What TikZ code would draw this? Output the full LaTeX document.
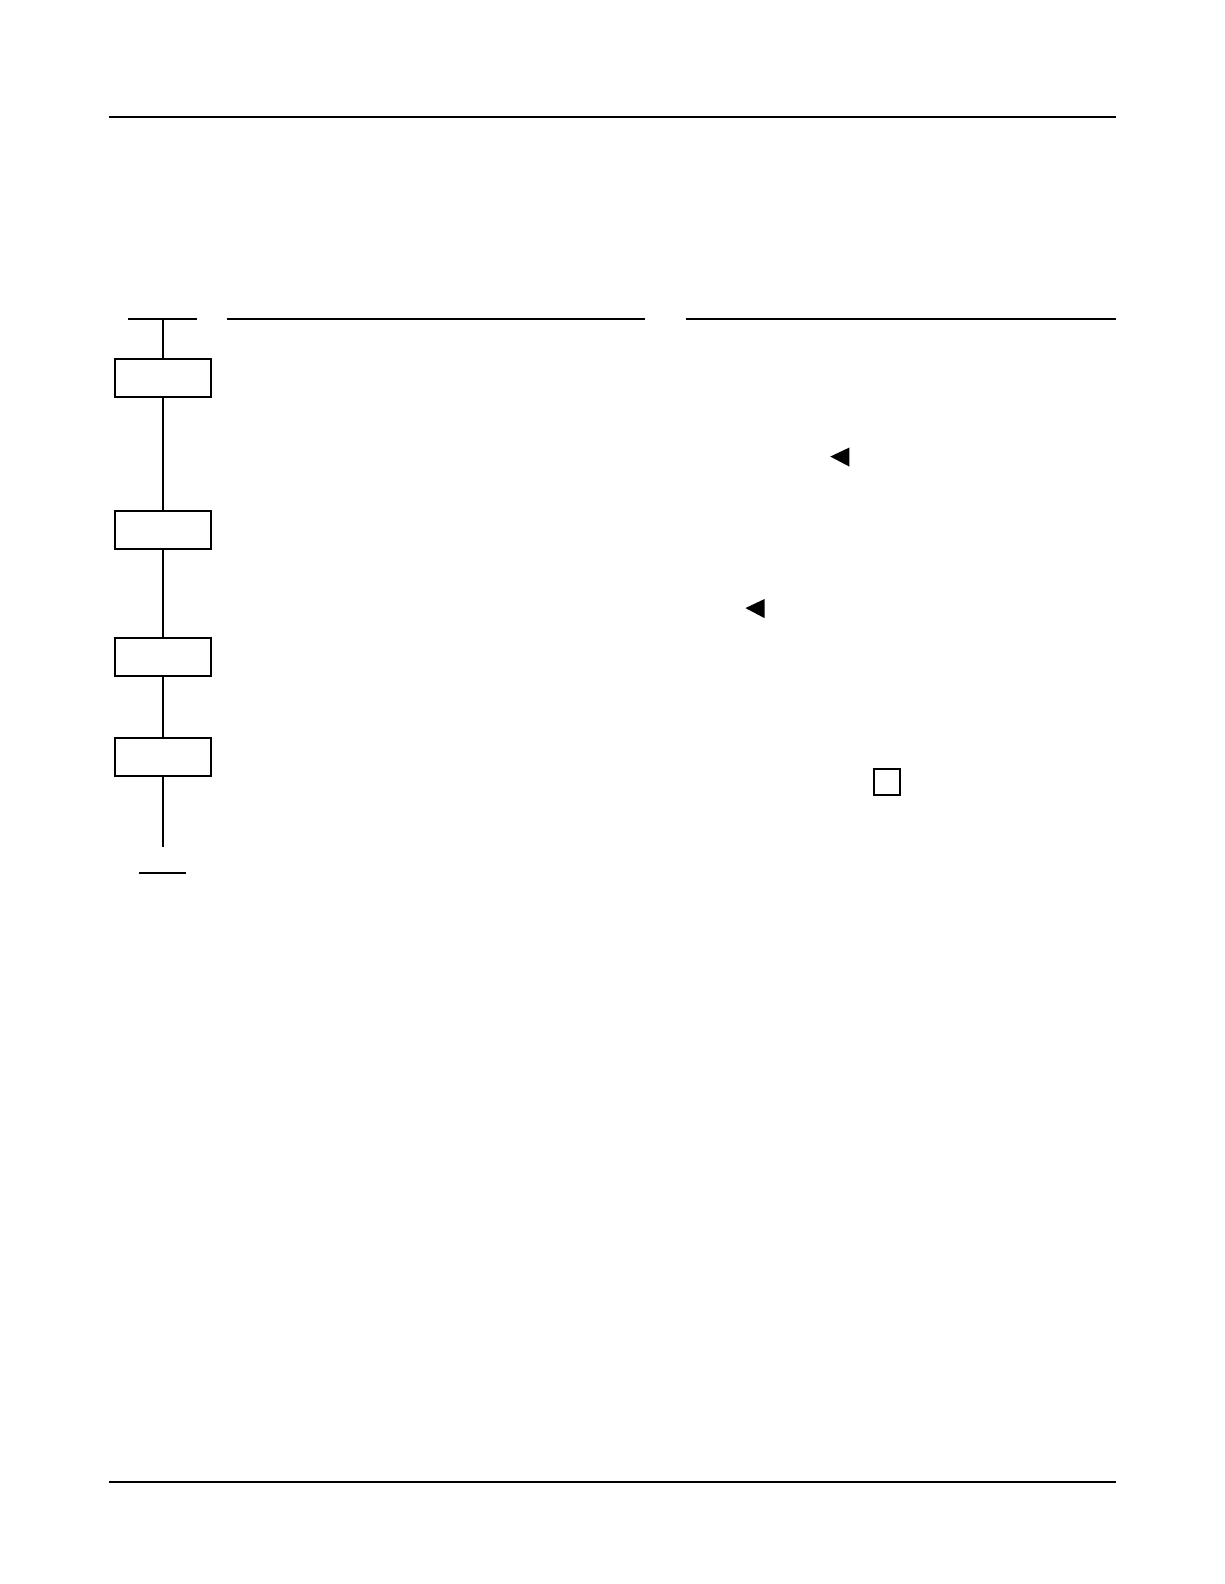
\documentclass[tikz,border=0pt]{standalone}
\usetikzlibrary{positioning}

\tikzset{
  trait/.style={line width=1pt},
  etape/.style={draw, line width=1pt, minimum width=16.9mm, minimum height=6.7mm, inner sep=0pt},
  caseVide/.style={draw, line width=1pt, minimum size=4.5mm, inner sep=0pt}
}

\begin{document}
\begin{tikzpicture}[x=0.17817mm, y=-0.17817mm]
\useasboundingbox (0,0) rectangle (1211.8,1568.2);

% Filets de page
\draw[trait] (108,116) -- (1105,116);
\draw[trait] (108,1467) -- (1105,1467);

% En-tete des colonnes
\draw[trait] (127,316) -- (195,316);
\draw[trait] (225,316) -- (639,316);
\draw[trait] (679,316) -- (1105,316);

% Etapes
\coordinate (debut) at (161,316);
\node[etape] (e1) at (161,374) {};
\node[etape] (e2) at (161,525) {};
\node[etape] (e3) at (161,650) {};
\node[etape] (e4) at (161,749) {};
\coordinate (fin) at (161,839);

\draw[trait] (debut) -- (e1);
\draw[trait] (e1) -- (e2);
\draw[trait] (e2) -- (e3);
\draw[trait] (e3) -- (e4);
\draw[trait] (e4) -- (fin);
\draw[trait] (138,864) -- (184,864);

% Reperes
\fill (822,452) -- (841,443) -- (841,462) -- cycle;
\fill (738,602) -- (757,593) -- (757,612) -- cycle;
\node[caseVide] (case) at (878,774) {};

\end{tikzpicture}
\end{document}
